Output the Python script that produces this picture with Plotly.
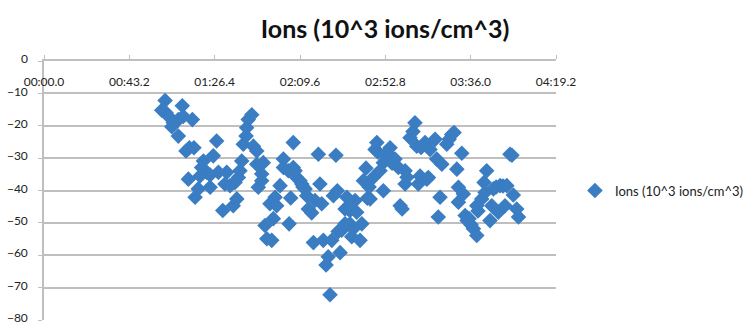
import plotly.graph_objects as go

# Elapsed time (seconds) and ion concentration readings
seconds = [
    59.6, 61.3, 61.8, 63.4, 64.7, 65.5, 68.0, 68.0, 70.0, 70.5,
    71.9, 73.1, 73.6, 75.1, 75.9, 76.5, 78.1, 79.0, 79.8, 80.7,
    82.4, 84.1, 84.1, 85.7, 87.4, 88.3, 90.5, 91.6, 92.5, 94.2,
    95.8, 96.7, 97.6, 98.4, 99.2, 100.1, 100.9, 102.3, 102.6, 103.4,
    105.2, 106.0, 107.7, 107.7, 108.5, 110.2, 110.2, 111.0, 111.9, 112.8,
    114.4, 115.3, 116.1, 117.0, 117.8, 119.5, 121.2, 121.2, 123.7, 124.1,
    124.9, 126.2, 126.2, 127.1, 127.9, 129.6, 130.5, 131.1, 132.2, 133.0,
    133.8, 135.5, 136.4, 137.2, 138.9, 139.7, 140.6, 141.4, 142.8, 143.9,
    144.8, 145.7, 146.5, 148.5, 147.8, 148.9, 149.9, 150.7, 151.5, 152.4,
    152.4, 153.3, 154.1, 154.9, 154.9, 155.8, 156.6, 157.5, 158.3, 160.0,
    160.9, 161.7, 163.0, 163.7, 165.1, 164.6, 166.7, 168.5, 167.6, 169.1,
    170.1, 171.8, 171.8, 173.5, 175.2, 174.2, 176.2, 177.7, 179.4, 180.3,
    181.3, 182.8, 182.8, 183.8, 185.3, 186.8, 187.8, 188.7, 189.5, 190.4,
    190.9, 192.9, 193.8, 194.6, 195.4, 198.0, 198.8, 199.6, 200.5, 201.4,
    203.9, 205.1, 206.4, 207.6, 209.0, 209.8, 209.8, 211.5, 212.3, 213.2,
    214.2, 215.2, 216.2, 217.4, 219.1, 219.1, 219.7, 221.6, 222.8, 223.3,
    224.1, 225.8, 226.7, 227.5, 228.9, 230.0, 230.9, 232.4, 233.4, 234.3,
    235.9, 236.9, 237.6, 239.3, 240.2,
]
ions = [
    -15.2, -12.2, -16.0, -17.3, -20.3, -19.1, -18.1, -23.2, -13.8, -17.1,
    -27.8, -36.5, -26.8, -18.1, -26.8, -42.1, -39.5, -35.5, -32.9, -30.9,
    -34.4, -39.0, -35.2, -29.3, -24.7, -34.4, -46.2, -38.0, -34.4, -38.5,
    -44.7, -37.5, -42.6, -36.0, -33.9, -30.9, -25.7, -23.2, -20.6, -18.1,
    -16.6, -26.3, -27.8, -31.9, -39.0, -34.9, -37.0, -31.4, -50.8, -54.9,
    -44.1, -55.4, -48.7, -42.1, -44.7, -38.5, -30.3, -32.9, -33.9, -50.3,
    -42.3, -25.2, -32.9, -33.9, -36.0, -37.0, -38.0, -38.9, -39.5, -41.6,
    -45.7, -46.9, -56.1, -43.1, -28.8, -38.0, -44.1, -55.4, -63.0, -60.5,
    -72.2, -55.4, -41.6, -40.1, -29.1, -52.7, -59.2, -52.3, -51.3, -45.7,
    -50.3, -42.1, -45.7, -50.3, -46.2, -54.3, -51.8, -43.1, -46.7, -55.4,
    -50.3, -37.0, -33.1, -42.4, -42.6, -38.9, -36.0, -25.2, -27.3, -28.2,
    -33.9, -31.4, -40.1, -28.3, -26.8, -29.7, -31.6, -30.3, -32.9, -44.7,
    -45.7, -33.9, -38.0, -35.9, -23.7, -21.8, -19.1, -26.3, -38.0, -35.5,
    -26.7, -25.2, -36.5, -36.0, -27.3, -24.2, -30.3, -48.2, -42.1, -31.9,
    -25.7, -24.2, -22.7, -22.1, -33.4, -39.0, -43.6, -28.5, -41.1, -47.7,
    -49.3, -48.7, -50.6, -51.8, -53.9, -44.7, -46.3, -42.6, -37.5, -40.6,
    -33.9, -49.3, -44.7, -39.5, -38.9, -46.7, -38.5, -38.6, -44.7, -38.5,
    -28.8, -29.1, -41.4, -45.7, -48.2,
]

# Time axis ticks every 43.2 s, shown as mm:ss.s
tick_seconds = [0, 43.2, 86.4, 129.6, 172.8, 216.0, 259.2]
tick_labels = ["00:00.0", "00:43.2", "01:26.4", "02:09.6", "02:52.8", "03:36.0", "04:19.2"]
# Concentration ticks every 10 units
ion_ticks = [0, -10, -20, -30, -40, -50, -60, -70, -80]

series_name = "Ions (10^3 ions/cm^3)"
font_family = "Lato, 'Open Sans', sans-serif"
grid_color = "#bfbfbf"
marker_color = "#3a7dc2"
x_range = [0, 259.2]

fig = go.Figure()
fig.add_trace(
    go.Scatter(
        x=seconds,
        y=ions,
        mode="markers",
        name=series_name,
        marker=dict(symbol="diamond", size=12, color=marker_color,
                    line=dict(width=0)),
        showlegend=True,
    )
)
# Empty trace that carries the time labels just under the zero line
fig.add_trace(
    go.Scatter(x=[], y=[], xaxis="x2", yaxis="y", showlegend=False,
               hoverinfo="skip")
)

fig.update_layout(
    width=755,
    height=326,
    margin=dict(l=44, r=199, t=61, b=6),
    paper_bgcolor="white",
    plot_bgcolor="white",
    font=dict(family=font_family, size=12, color="#222222"),
    title=dict(
        text="<b>" + series_name + "</b>",
        x=0.51, xanchor="center",
        y=1 - 29 / 326, yanchor="middle",
        yref="container",
        font=dict(family=font_family, size=25, color="#111111"),
    ),
    legend=dict(
        x=1.037, xanchor="left",
        y=0.5, yanchor="middle",
        font=dict(family=font_family, size=13, color="#222222"),
        bgcolor="rgba(0,0,0,0)",
    ),
    xaxis=dict(
        range=x_range,
        side="top",
        tickvals=tick_seconds,
        ticktext=tick_labels,
        ticks="outside",
        ticklen=4,
        tickcolor=grid_color,
        showticklabels=False,
        showline=True,
        linecolor=grid_color,
        linewidth=1.5,
        showgrid=False,
        zeroline=False,
    ),
    xaxis2=dict(
        range=x_range,
        overlaying="x",
        anchor="free",
        position=1.0,
        side="bottom",
        tickvals=tick_seconds,
        ticktext=tick_labels,
        ticks="",
        showline=False,
        showgrid=False,
        zeroline=False,
        ticklabelstandoff=12,
        ticklabeloverflow="allow",
        tickfont=dict(size=12),
    ),
    yaxis=dict(
        range=[-80, 0],
        tickvals=ion_ticks,
        ticks="outside",
        ticklen=4,
        tickcolor=grid_color,
        ticklabelstandoff=8,
        ticklabelshift=-2,
        ticklabeloverflow="allow",
        showline=True,
        linecolor=grid_color,
        linewidth=1.5,
        showgrid=True,
        gridcolor=grid_color,
        gridwidth=1.5,
        zeroline=False,
        automargin=False,
        tickfont=dict(size=12),
    ),
)

fig.write_html("out.html")
